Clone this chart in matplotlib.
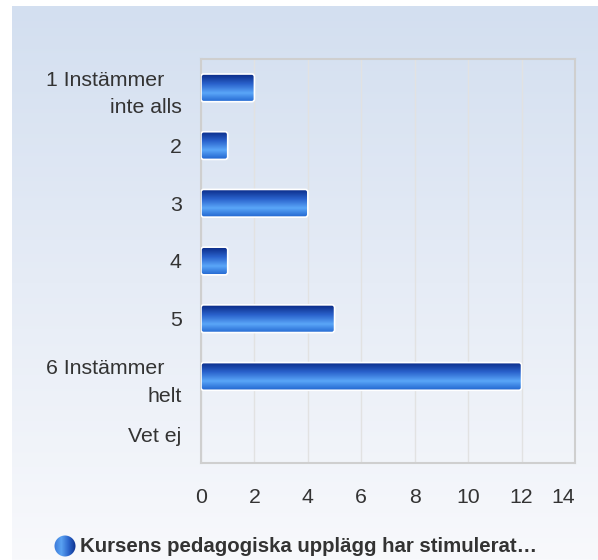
import numpy as np
import matplotlib.pyplot as plt
from matplotlib.colors import LinearSegmentedColormap
from matplotlib.patches import FancyBboxPatch, Circle

plt.rcParams['font.family'] = ['Liberation Sans', 'DejaVu Sans']

# data
categories = ['1 Instämmer   \ninte alls', '2', '3', '4', '5', '6 Instämmer   \nhelt', 'Vet ej']
counts = [2, 1, 4, 1, 5, 12, 0]
xticks = [0, 2, 4, 6, 8, 10, 12, 14]
legend_label = 'Kursens pedagogiska upplägg har stimulerat…'

W, H = 598, 560
fig = plt.figure(figsize=(W / 100, H / 100), dpi=100)

# background panel with vertical gradient (pixel coords)
bg = fig.add_axes([0, 0, 1, 1])
bg.set_xlim(0, W)
bg.set_ylim(H, 0)
bg.axis('off')
bg_cmap = LinearSegmentedColormap.from_list('bg', ['#d3dff0', '#e6ecf6', '#f8f9fc'])
grad = np.linspace(0, 1, 256).reshape(-1, 1)
bg.imshow(grad, cmap=bg_cmap, extent=(12, W, H, 6), aspect='auto', zorder=0)

# legend marker: circle with horizontal gradient
leg_cmap = LinearSegmentedColormap.from_list('leg', ['#3a78d8', '#5aa2f2', '#2c66cc', '#0c2f8c'])
circ = Circle((65, 546), 10.5, transform=bg.transData, facecolor='none', edgecolor='none')
bg.add_patch(circ)
im = bg.imshow(np.linspace(0, 1, 256).reshape(1, -1), cmap=leg_cmap,
               extent=(54, 76, 557, 535), aspect='auto', zorder=2)
im.set_clip_path(circ)
bg.set_xlim(0, W)
bg.set_ylim(H, 0)
fig.text(80 / W, 1 - 547 / H, legend_label, fontsize=14.7, fontweight='bold',
         color='#333333', va='center', ha='left')

# main plot
ax = fig.add_axes([201 / W, 1 - 463 / H, 374 / W, 404 / H])
ax.patch.set_alpha(0)
y = np.arange(len(categories))
bars = ax.barh(y, counts, height=0.48, facecolor='none', edgecolor='none', zorder=3)

bar_cmap = LinearSegmentedColormap.from_list(
    'bar', [(0.0, '#0a2a86'), (0.35, '#2a62cc'), (0.68, '#5aa6f8'), (1.0, '#2266d0')])
for rect in bars:
    x0, y0 = rect.get_x(), rect.get_y()
    w, h = rect.get_width(), rect.get_height()
    if w <= 0:
        continue
    p = FancyBboxPatch((x0, y0), w, h, boxstyle='round,pad=0,rounding_size=0.1',
                       mutation_aspect=0.463, facecolor='none', edgecolor='white',
                       linewidth=1.2, zorder=5)
    ax.add_patch(p)
    img = ax.imshow(np.linspace(0, 1, 64).reshape(-1, 1), cmap=bar_cmap,
                    extent=(x0, x0 + w, y0 + h, y0), aspect='auto', zorder=4)
    img.set_clip_path(p)

ax.set_xlim(0, 14)
ax.set_ylim(len(categories) - 0.5, -0.5)
ax.set_xticks(xticks)
ax.set_yticks(y)
ax.set_yticklabels(categories)
ax.tick_params(axis='both', length=0, labelsize=15.3, labelcolor='#333333')
ax.tick_params(axis='x', pad=18)
ax.tick_params(axis='y', pad=14)
for lab in ax.get_yticklabels():
    lab.set_multialignment('right')
    lab.set_linespacing(1.55)
# last x label is pulled inside the frame
ax.get_xticklabels()[-1].set_horizontalalignment('right')
ax.grid(axis='x', color='#e2e2e2', linewidth=1.0, zorder=1)
ax.set_axisbelow(True)
for s in ax.spines.values():
    s.set_color('#cfcfcf')
    s.set_linewidth(1.5)

fig.savefig('out.png', dpi=100)
